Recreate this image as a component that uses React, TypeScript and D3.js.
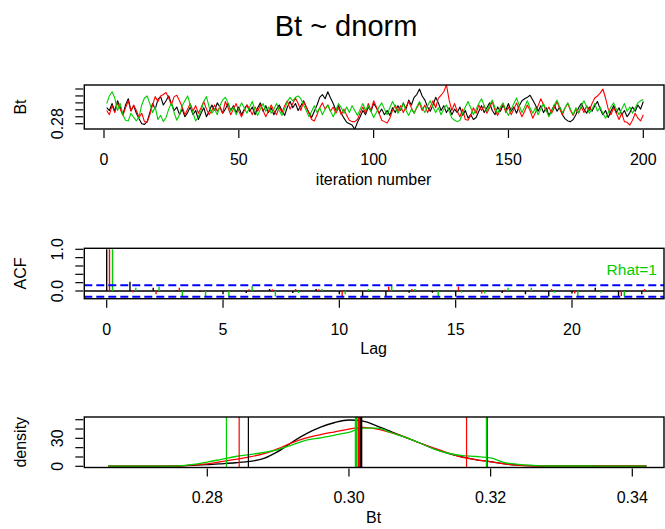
import React from 'react';
import * as d3 from 'd3';

const W = 665;
const H = 529;
const FONT = '"Liberation Sans", Arial, Helvetica, sans-serif';
const chainColors = ['#000000', '#FF0000', '#00CD00'];

// ---------- Trace panel data (Bt per iteration, 3 chains) ----------
const traceBlack = [
  0.303, 0.299, 0.309, 0.298, 0.313, 0.304, 0.293, 0.307, 0.316, 0.299,
  0.306, 0.295, 0.287, 0.280, 0.279, 0.283, 0.296, 0.309, 0.301, 0.315,
  0.319, 0.307, 0.313, 0.320, 0.309, 0.299, 0.304, 0.293, 0.301, 0.290,
  0.296, 0.304, 0.293, 0.299, 0.286, 0.295, 0.303, 0.290, 0.298, 0.307,
  0.299, 0.310, 0.304, 0.295, 0.301, 0.309, 0.299, 0.306, 0.296, 0.304,
  0.293, 0.301, 0.307, 0.298, 0.304, 0.293, 0.303, 0.310, 0.298, 0.306,
  0.296, 0.303, 0.293, 0.301, 0.307, 0.299, 0.292, 0.304, 0.312, 0.303,
  0.309, 0.299, 0.306, 0.313, 0.304, 0.296, 0.289, 0.298, 0.307, 0.318,
  0.322, 0.316, 0.326, 0.317, 0.309, 0.299, 0.306, 0.295, 0.288, 0.282,
  0.280, 0.278, 0.272, 0.282, 0.290, 0.299, 0.293, 0.304, 0.298, 0.309,
  0.303, 0.295, 0.301, 0.293, 0.299, 0.292, 0.303, 0.296, 0.306, 0.299,
  0.310, 0.301, 0.314, 0.307, 0.318, 0.322, 0.330, 0.320, 0.314, 0.304,
  0.298, 0.307, 0.318, 0.310, 0.299, 0.306, 0.296, 0.303, 0.293, 0.301,
  0.296, 0.304, 0.292, 0.299, 0.288, 0.293, 0.286, 0.289, 0.298, 0.306,
  0.296, 0.303, 0.310, 0.299, 0.293, 0.304, 0.298, 0.307, 0.299, 0.309,
  0.298, 0.304, 0.295, 0.306, 0.313, 0.316, 0.318, 0.321, 0.314, 0.307,
  0.298, 0.306, 0.296, 0.303, 0.292, 0.299, 0.307, 0.298, 0.304, 0.293,
  0.287, 0.284, 0.283, 0.286, 0.293, 0.303, 0.309, 0.301, 0.295, 0.304,
  0.298, 0.306, 0.312, 0.301, 0.293, 0.299, 0.289, 0.298, 0.306, 0.296,
  0.303, 0.293, 0.299, 0.290, 0.296, 0.304, 0.298, 0.307, 0.301, 0.312,
];
const traceRed = [
  0.299, 0.293, 0.306, 0.296, 0.310, 0.301, 0.292, 0.303, 0.313, 0.298,
  0.307, 0.299, 0.289, 0.295, 0.283, 0.282, 0.293, 0.307, 0.319, 0.312,
  0.320, 0.322, 0.325, 0.317, 0.307, 0.319, 0.321, 0.313, 0.304, 0.293,
  0.301, 0.309, 0.298, 0.306, 0.295, 0.303, 0.312, 0.301, 0.293, 0.299,
  0.307, 0.298, 0.304, 0.295, 0.312, 0.303, 0.293, 0.301, 0.309, 0.298,
  0.290, 0.299, 0.307, 0.301, 0.293, 0.304, 0.298, 0.307, 0.299, 0.290,
  0.298, 0.307, 0.299, 0.293, 0.304, 0.296, 0.306, 0.313, 0.301, 0.309,
  0.317, 0.309, 0.299, 0.312, 0.304, 0.295, 0.286, 0.284, 0.293, 0.303,
  0.310, 0.301, 0.307, 0.298, 0.304, 0.295, 0.303, 0.293, 0.301, 0.292,
  0.285, 0.283, 0.283, 0.286, 0.296, 0.304, 0.295, 0.309, 0.299, 0.313,
  0.304, 0.295, 0.285, 0.283, 0.281, 0.288, 0.299, 0.307, 0.298, 0.306,
  0.296, 0.304, 0.312, 0.303, 0.295, 0.303, 0.310, 0.299, 0.307, 0.296,
  0.304, 0.313, 0.303, 0.317, 0.321, 0.326, 0.336, 0.314, 0.299, 0.309,
  0.298, 0.290, 0.301, 0.286, 0.285, 0.292, 0.303, 0.295, 0.307, 0.299,
  0.306, 0.295, 0.303, 0.312, 0.299, 0.292, 0.301, 0.309, 0.296, 0.304,
  0.293, 0.301, 0.310, 0.299, 0.290, 0.298, 0.307, 0.299, 0.288, 0.296,
  0.306, 0.316, 0.307, 0.298, 0.304, 0.295, 0.303, 0.312, 0.301, 0.293,
  0.303, 0.309, 0.299, 0.292, 0.301, 0.295, 0.304, 0.296, 0.306, 0.299,
  0.309, 0.317, 0.320, 0.324, 0.330, 0.317, 0.301, 0.293, 0.303, 0.295,
  0.286, 0.295, 0.283, 0.282, 0.278, 0.285, 0.295, 0.288, 0.284, 0.293,
];
const traceGreen = [
  0.309, 0.320, 0.326, 0.317, 0.299, 0.309, 0.293, 0.285, 0.284, 0.295,
  0.289, 0.284, 0.290, 0.307, 0.317, 0.320, 0.309, 0.296, 0.304, 0.286,
  0.292, 0.283, 0.289, 0.301, 0.310, 0.296, 0.285, 0.293, 0.306, 0.313,
  0.320, 0.307, 0.295, 0.284, 0.290, 0.299, 0.312, 0.319, 0.304, 0.295,
  0.301, 0.293, 0.306, 0.314, 0.318, 0.310, 0.298, 0.304, 0.293, 0.301,
  0.310, 0.303, 0.295, 0.304, 0.312, 0.299, 0.292, 0.301, 0.309, 0.298,
  0.304, 0.295, 0.301, 0.309, 0.299, 0.292, 0.301, 0.312, 0.318, 0.313,
  0.318, 0.320, 0.316, 0.307, 0.299, 0.290, 0.298, 0.306, 0.296, 0.303,
  0.293, 0.301, 0.307, 0.298, 0.290, 0.299, 0.309, 0.303, 0.295, 0.304,
  0.296, 0.306, 0.299, 0.292, 0.301, 0.309, 0.299, 0.306, 0.298, 0.289,
  0.296, 0.304, 0.310, 0.301, 0.293, 0.303, 0.312, 0.304, 0.295, 0.301,
  0.309, 0.299, 0.292, 0.301, 0.295, 0.304, 0.312, 0.303, 0.296, 0.306,
  0.313, 0.304, 0.296, 0.303, 0.293, 0.301, 0.307, 0.298, 0.288, 0.285,
  0.283, 0.285, 0.295, 0.304, 0.312, 0.303, 0.293, 0.301, 0.309, 0.316,
  0.306, 0.298, 0.307, 0.314, 0.303, 0.295, 0.304, 0.310, 0.299, 0.292,
  0.301, 0.309, 0.317, 0.306, 0.296, 0.304, 0.313, 0.303, 0.295, 0.303,
  0.293, 0.301, 0.309, 0.299, 0.290, 0.298, 0.307, 0.314, 0.304, 0.296,
  0.303, 0.310, 0.301, 0.293, 0.303, 0.296, 0.306, 0.313, 0.304, 0.295,
  0.301, 0.309, 0.298, 0.304, 0.295, 0.288, 0.296, 0.304, 0.310, 0.301,
  0.293, 0.301, 0.309, 0.298, 0.304, 0.295, 0.303, 0.310, 0.313, 0.315,
];
const traceXTicks = [0, 50, 100, 150, 200];
const traceYTicks = [0.28, 0.29, 0.3, 0.31, 0.32, 0.33];
const traceYTickLabels = ['0.28', '', '', '', '', ''];

// ---------- ACF panel data ----------
const acfLags = [0, 1, 2, 3, 4, 5, 6, 7, 8, 9, 10, 11, 12, 13, 14, 15, 16, 17, 18, 19, 20, 21, 22, 23];
const acfBlack = [1, 0.22, 0.08, 0.02, -0.02, -0.08, -0.05, 0.05, -0.05, 0.05, -0.08, -0.13, -0.13, -0.04, -0.04, -0.13, 0.01, -0.05, -0.08, -0.13, -0.06, 0.08, -0.13, -0.08];
const acfRed = [1, -0.03, -0.08, 0.08, 0.01, 0.01, 0.04, 0.04, 0.05, 0.04, -0.15, 0.02, 0.1, 0.05, 0.01, 0.1, -0.06, 0.03, 0.01, 0.05, -0.06, 0.01, -0.12, 0.05];
const acfGreen = [1, 0.08, 0.1, -0.12, -0.15, -0.14, 0.12, -0.13, -0.05, 0.05, -0.08, 0.05, 0.13, 0.05, -0.12, -0.04, -0.06, 0.08, 0.08, -0.04, -0.12, -0.04, -0.13, 0.02];
const acfChainOffsets = [0, 0.12, 0.25];
const acfBound = 0.14;
const acfXTicks = [0, 5, 10, 15, 20];
const acfYTicks = [0, 0.2, 0.4, 0.6, 0.8, 1.0];
const acfYTickLabels = ['0.0', '', '', '', '', '1.0'];
const rhatLabel = 'Rhat=1';

// ---------- Density panel data ----------
const densGrid = [
  0.266, 0.268, 0.27, 0.272, 0.274, 0.276, 0.278, 0.28, 0.282, 0.284,
  0.286, 0.288, 0.29, 0.292, 0.294, 0.296, 0.298, 0.3, 0.302, 0.304,
  0.306, 0.308, 0.31, 0.312, 0.314, 0.316, 0.318, 0.32, 0.322, 0.324,
  0.326, 0.328, 0.33, 0.332, 0.334, 0.336, 0.338, 0.34, 0.342,
];
const densBlack = [
  0.2, 0.2, 0.2, 0.2, 0.2, 0.5, 1.0, 1.7, 2.7, 3.8,
  5.2, 8.5, 16, 26, 35, 42, 47, 49.7, 48.5, 43,
  37, 31, 25, 19, 14, 10, 7, 5, 2.6, 1.2,
  0.6, 0.4, 0.4, 0.4, 0.4, 0.2, 0.2, 0.2, 0.2,
];
const densRed = [
  0.2, 0.2, 0.2, 0.2, 0.2, 0.3, 1.5, 2.5, 5, 7.5,
  10, 13.5, 19, 25.5, 30.5, 34, 37, 40, 41.8, 40,
  36, 31, 25, 19.5, 14.5, 9.5, 7, 4.8, 2.5, 1,
  0.5, 0.3, 0.3, 0.3, 0.3, 0.3, 0.3, 0.3, 0.3,
];
const densGreen = [
  0.2, 0.2, 0.2, 0.2, 0.2, 0.5, 2, 4.5, 7.5, 10.5,
  12.5, 15, 18, 23, 28, 30.5, 33.5, 36.5, 41, 41,
  36, 31, 25, 18.5, 14, 11.5, 10.5, 9, 4, 2,
  1, 0.3, 0.3, 0.3, 0.3, 0.1, 0.1, 0.1, 0.1,
];
// 2.5%, median, 97.5% per chain
const quantBlack = [0.2858, 0.3017, 0.3195];
const quantRed = [0.2845, 0.3014, 0.3166];
const quantGreen = [0.2827, 0.301, 0.3194];
const densXTicks = [0.28, 0.3, 0.32, 0.34];
const densYTicks = [0, 10, 20, 30, 40, 50];
const densYTickLabels = ['0', '', '', '30', '', ''];

const titleText = 'Bt ~ dnorm';

// ---------- Layout ----------
const L = 84.3;
const R = 664;
const traceBox = { top: 85, bottom: 129 };
const acfBox = { top: 248.3, bottom: 298.7 };
const densBox = { top: 417, bottom: 467.5 };

const TICK = 8;
const tickFont = 16;

function Box({ top, bottom }: { top: number; bottom: number }) {
  return <rect x={L} y={top} width={R - L} height={bottom - top} fill="none" stroke="#000" strokeWidth={1.4} />;
}

function XAxis({ ticks, scale, bottom, labels }: { ticks: number[]; scale: any; bottom: number; labels: string[] }) {
  return (
    <g>
      {ticks.map((t, i) => (
        <g key={i}>
          <line x1={scale(t)} x2={scale(t)} y1={bottom + 1} y2={bottom + 1 + TICK} stroke="#000" strokeWidth={1.2} />
          <text x={scale(t)} y={bottom + 35.8} textAnchor="middle" fontSize={tickFont} fontFamily={FONT} fill="#000">{labels[i]}</text>
        </g>
      ))}
    </g>
  );
}

function YAxis({ ticks, scale, labels }: { ticks: number[]; scale: any; labels: string[] }) {
  return (
    <g>
      {ticks.map((t, i) => (
        <g key={i}>
          <line x1={L - 1} x2={L - 1 - TICK} y1={scale(t)} y2={scale(t)} stroke="#000" strokeWidth={1.2} />
          {labels[i] ? (
            <text transform={`translate(62.8,${scale(t)}) rotate(-90)`} textAnchor="middle" fontSize={tickFont} fontFamily={FONT} fill="#000">{labels[i]}</text>
          ) : null}
        </g>
      ))}
    </g>
  );
}

function YTitle({ text, top, bottom }: { text: string; top: number; bottom: number }) {
  return (
    <text transform={`translate(26,${(top + bottom) / 2}) rotate(-90)`} textAnchor="middle" fontSize={16} fontFamily={FONT} fill="#000">{text}</text>
  );
}

function XTitle({ text, bottom }: { text: string; bottom: number }) {
  return (
    <text x={(104 + 643.3) / 2} y={bottom + 55.5} textAnchor="middle" fontSize={16} fontFamily={FONT} fill="#000">{text}</text>
  );
}

export default function App() {
  // Trace scales
  const tx = d3.scaleLinear().domain([0, 200]).range([104, 643.3]);
  const ty = d3.scaleLinear().domain([0.28, 0.33]).range([123.7, 89]);
  const traceLine = d3.line<number>().x((_, i) => tx(i + 1)).y((d) => ty(d));
  const traces = [traceBlack, traceRed, traceGreen];

  // ACF scales
  const ax = d3.scaleLinear().domain([0, 20]).range([106.7, 572]);
  const ay = d3.scaleLinear().domain([0, 1]).range([291, 249.3]);
  const acfs = [acfBlack, acfRed, acfGreen];

  // Density scales
  const dx = d3.scaleLinear().domain([0.28, 0.34]).range([207.3, 632.3]);
  const dy = d3.scaleLinear().domain([0, 50]).range([466.3, 419.7]);
  const densLine = d3.line<number>().x((_, i) => dx(densGrid[i])).y((d) => dy(d)).curve(d3.curveMonotoneX);
  const dens = [densBlack, densRed, densGreen];
  const quants = [quantBlack, quantRed, quantGreen];

  const xTickTrace = traceXTicks.map((t) => String(t));
  const xTickAcf = acfXTicks.map((t) => String(t));
  const xTickDens = densXTicks.map((t) => d3.format('.2f')(t));

  return (
    <svg width={W} height={H} viewBox={`0 0 ${W} ${H}`} style={{ position: 'absolute', left: 0, top: 0, background: '#fff' }}>
      <defs>
        <clipPath id="clipTrace"><rect x={L} y={traceBox.top} width={R - L} height={traceBox.bottom - traceBox.top} /></clipPath>
        <clipPath id="clipAcf"><rect x={L} y={acfBox.top} width={R - L} height={acfBox.bottom - acfBox.top} /></clipPath>
        <clipPath id="clipDens"><rect x={L} y={densBox.top} width={R - L} height={densBox.bottom - densBox.top} /></clipPath>
      </defs>
      <rect x={0} y={0} width={W} height={H} fill="#fff" />

      <text x={346} y={36} textAnchor="middle" fontSize={29} fontFamily={FONT} fill="#000">{titleText}</text>

      {/* Trace panel */}
      <g clipPath="url(#clipTrace)">
        {traces.map((s, c) => (
          <path key={c} d={traceLine(s) || ''} fill="none" stroke={chainColors[c]} strokeWidth={1.1} strokeLinejoin="round" />
        ))}
      </g>
      <Box {...traceBox} />
      <XAxis ticks={traceXTicks} scale={tx} bottom={traceBox.bottom} labels={xTickTrace} />
      <YAxis ticks={traceYTicks} scale={ty} labels={traceYTickLabels} />
      <YTitle text="Bt" {...traceBox} />
      <XTitle text="iteration number" bottom={traceBox.bottom} />

      {/* ACF panel */}
      <g clipPath="url(#clipAcf)">
        <line x1={L} x2={R} y1={ay(0)} y2={ay(0)} stroke="#000" strokeWidth={1.3} />
        {acfs.map((s, c) => (
          <g key={c}>
            {s.map((v, i) => (
              <line key={i} x1={ax(acfLags[i] + acfChainOffsets[c])} x2={ax(acfLags[i] + acfChainOffsets[c])} y1={ay(0)} y2={ay(v)} stroke={chainColors[c]} strokeWidth={1.4} />
            ))}
          </g>
        ))}
        <line x1={L} x2={R} y1={ay(acfBound)} y2={ay(acfBound)} stroke="#0000FF" strokeWidth={2} strokeDasharray="8,4" />
        <line x1={L} x2={R} y1={ay(-acfBound)} y2={ay(-acfBound)} stroke="#0000FF" strokeWidth={2} strokeDasharray="8,4" />
      </g>
      <Box {...acfBox} />
      <XAxis ticks={acfXTicks} scale={ax} bottom={acfBox.bottom} labels={xTickAcf} />
      <YAxis ticks={acfYTicks} scale={ay} labels={acfYTickLabels} />
      <YTitle text="ACF" {...acfBox} />
      <XTitle text="Lag" bottom={acfBox.bottom} />
      <text x={657} y={275} textAnchor="end" fontSize={15.5} fontFamily={FONT} fill={chainColors[2]}>{rhatLabel}</text>

      {/* Density panel */}
      <g clipPath="url(#clipDens)">
        {dens.map((s, c) => (
          <path key={c} d={densLine(s) || ''} fill="none" stroke={chainColors[c]} strokeWidth={1.3} />
        ))}
        {quants.map((q, c) => (
          <g key={c}>
            {q.map((v, i) => (
              <line key={i} x1={dx(v)} x2={dx(v)} y1={densBox.top} y2={densBox.bottom} stroke={chainColors[c]} strokeWidth={i === 1 ? 2.6 : 1.2} />
            ))}
          </g>
        ))}
      </g>
      <Box {...densBox} />
      <XAxis ticks={densXTicks} scale={dx} bottom={densBox.bottom} labels={xTickDens} />
      <YAxis ticks={densYTicks} scale={dy} labels={densYTickLabels} />
      <YTitle text="density" {...densBox} />
      <XTitle text="Bt" bottom={densBox.bottom} />
    </svg>
  );
}
